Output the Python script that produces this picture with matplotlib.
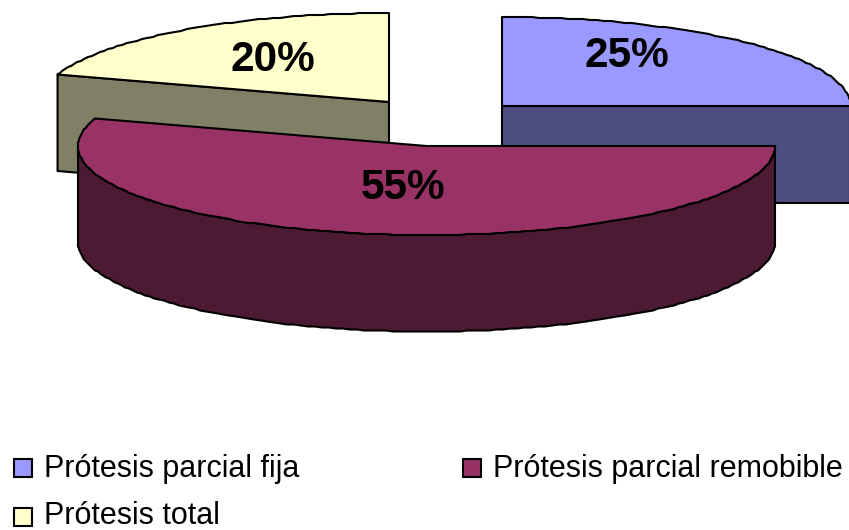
import numpy as np
import matplotlib.pyplot as plt
from matplotlib.patches import Polygon, Rectangle

plt.rcParams['font.family'] = ['Liberation Sans', 'DejaVu Sans']

# Share of each prosthesis type
categories = ['Prótesis parcial fija', 'Prótesis parcial remobible', 'Prótesis total']
values = [25, 55, 20]

top_colors = ['#9999FF', '#993366', '#FFFFCC']
side_colors = ['#4D4D80', '#4D1A33', '#808066']

# Exploded slice centres, in pixels
centers = [(502, 106), (426.5, 146), (389, 102)]
label_pos = [(627, 67), (403, 199), (273, 71)]
legend_pos = [(14, 467.5), (463, 467.5), (14, 517)]

A = 348.5  # horizontal radius
B = 89     # vertical radius
DEPTH = 96.5

fig = plt.figure(figsize=(8.49, 5.30), dpi=100)
ax = fig.add_axes([0, 0, 1, 1])
ax.set_xlim(0, 849)
ax.set_ylim(530, 0)
ax.axis('off')


def arc(cx, cy, t0, t1):
    # whole-pixel vertices give the arc its slightly stepped outline
    n = max(int(abs(t1 - t0) / 1.2), 2)
    t = np.radians(np.linspace(t0, t1, n))
    pts = np.column_stack([cx + A * np.cos(t), cy + B * np.sin(t)])
    pts[1:-1] = np.round(pts[1:-1])
    return pts


# Slice angles, clockwise from twelve o'clock
edges = -90 + np.cumsum([0] + values) * 3.6
shift = np.array([0, DEPTH])

# The back slices go first so the big slice sits in front
for i in [2, 0, 1]:
    cx, cy = centers[i]
    t0, t1 = edges[i], edges[i + 1]
    apex = np.array([cx, cy])
    top = arc(cx, cy, t0, t1)
    kw = dict(edgecolor='black', linewidth=1.5, joinstyle='round')

    # Flat cut walls that can be seen from above
    if i == 0:
        wall = [apex, top[-1], top[-1] + shift, apex + shift]
        ax.add_patch(Polygon(wall, facecolor=side_colors[i], **kw))
    if i == 2:
        wall = [top[0], apex, apex + shift, top[0] + shift]
        ax.add_patch(Polygon(wall, facecolor=side_colors[i], **kw))

    # Curved rim along the front of the ellipse
    lo, hi = max(t0, 0), min(t1, 180)
    if hi > lo:
        rim = arc(cx, cy, lo, hi)
        ax.add_patch(Polygon(np.vstack([rim, rim[::-1] + shift]),
                             facecolor=side_colors[i], **kw))

    ax.add_patch(Polygon(np.vstack([apex, top]), facecolor=top_colors[i], **kw))

for (x, y), v in zip(label_pos, values):
    ax.text(x, y, f'{v}%', fontsize=30.5, fontweight='bold', ha='center', va='baseline')

# Legend, with the last row kept clear of the bottom edge
for (x, y), name, color in zip(legend_pos, categories, top_colors):
    ax.add_patch(Rectangle((x, y - 9), 18, 18, facecolor=color, edgecolor='black', linewidth=1.5))
    ax.text(x + 30, min(y + 9.5, 523.5), name, fontsize=22, ha='left', va='baseline')

fig.savefig('out.png', dpi=100)
